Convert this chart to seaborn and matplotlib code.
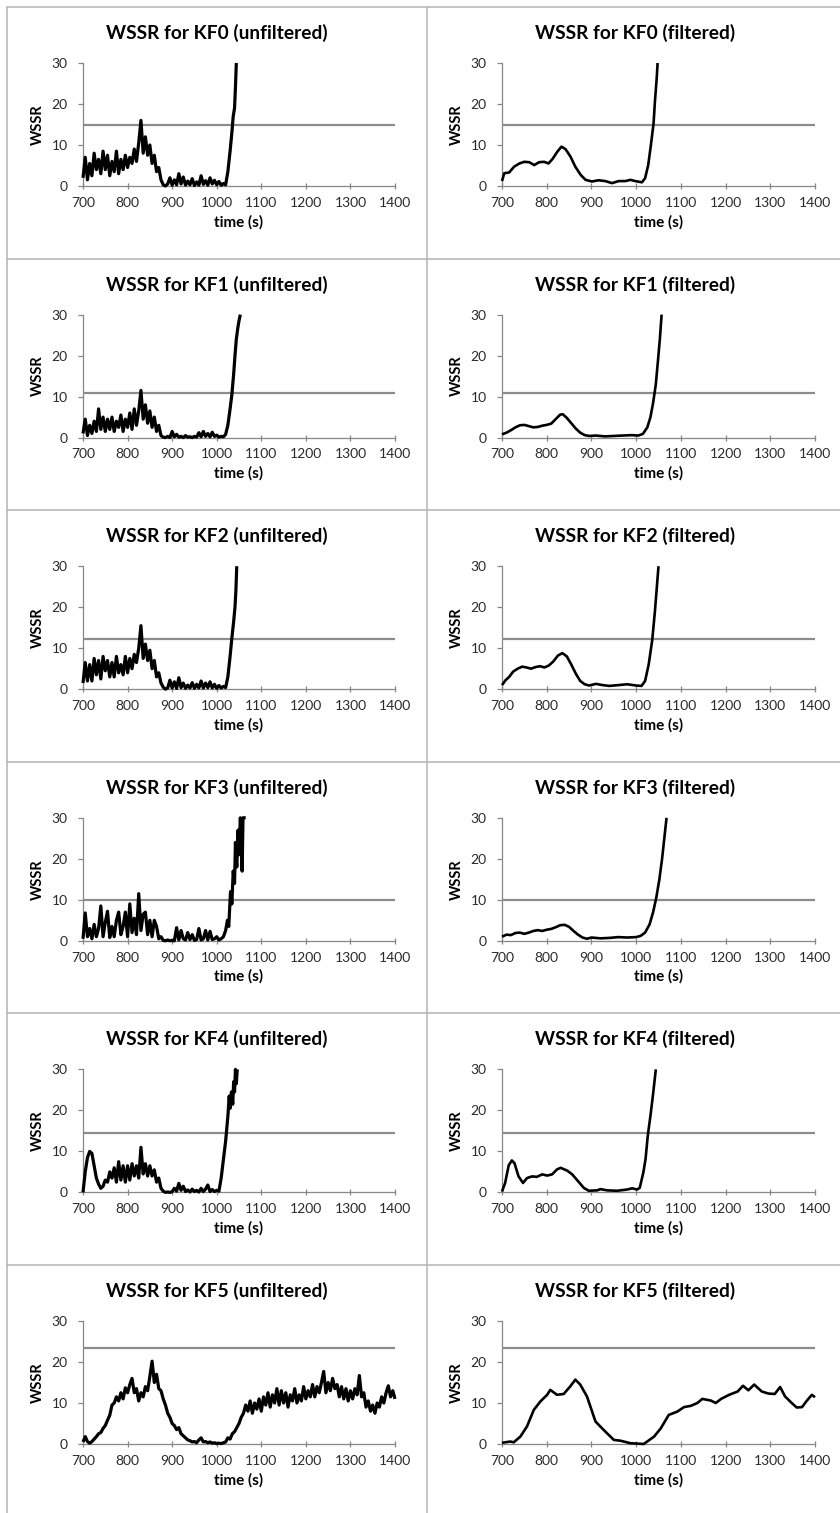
import numpy as np
import pandas as pd
import matplotlib
matplotlib.use("Agg")
import matplotlib.pyplot as plt
from matplotlib.lines import Line2D
import seaborn as sns

# ---------------------------------------------------------------------------
# Data: WSSR traces per Kalman filter (KF0..KF5), raw and smoothed
# Raw traces: regular 5 s samples from 700 s, followed by an irregular tail
# ---------------------------------------------------------------------------
kf0_raw = [
    2.0, 7.0, 1.5, 5.5, 2.5, 8.0, 4.0, 6.5, 3.0, 8.5,
    4.0, 7.5, 2.5, 6.0, 3.5, 8.5, 3.0, 6.5, 4.0, 7.5,
    4.5, 7.0, 5.5, 9.0, 6.0, 10.5, 16.0, 8.0, 12.0, 7.5,
    10.0, 5.5, 7.5, 3.5, 4.5, 1.5, 0.3, 0.0, 0.5, 2.0,
    0.2, 1.5, 0.3, 3.0, 0.5, 2.2, 0.2, 1.2, 0.3, 1.8,
    0.1, 1.0, 0.2, 2.5, 0.4, 1.3, 0.2, 2.0, 0.5, 1.4,
    0.3, 1.1, 0.2, 0.6, 0.3,
]
kf0_raw_tail_t = [1025, 1030, 1034, 1037, 1040, 1042, 1044]
kf0_raw_tail_v = [3.5, 8.5, 13.0, 17.0, 19.0, 24.0, 30.0]

kf1_raw = [
    1.0, 4.5, 0.5, 3.0, 1.0, 4.0, 1.5, 7.0, 2.0, 5.0,
    1.5, 4.5, 2.0, 5.0, 1.5, 4.0, 2.5, 5.5, 1.5, 4.5,
    2.5, 6.0, 2.0, 7.0, 3.0, 6.5, 11.5, 4.5, 8.0, 3.5,
    6.5, 2.5, 5.0, 1.5, 3.0, 0.5, 0.1, 0.0, 0.3, 0.0,
    1.5, 0.2, 0.8, 0.1, 0.3, 0.0, 0.5, 0.1, 0.2, 0.0,
    0.3, 0.1, 1.2, 0.2, 1.5, 0.3, 1.0, 0.2, 1.3, 0.3,
    0.6, 0.1, 0.3, 0.2,
]
kf1_raw_tail_t = [1020, 1025, 1030, 1034, 1038, 1041, 1044, 1047, 1050, 1053]
kf1_raw_tail_v = [0.8, 3.0, 7.0, 10.5, 15.5, 20.0, 24.0, 26.5, 28.5, 30.0]

kf2_raw = [
    1.5, 6.5, 2.0, 6.0, 2.0, 7.5, 3.5, 7.0, 2.5, 8.0,
    4.5, 7.0, 3.0, 6.5, 3.0, 8.0, 4.0, 6.0, 3.5, 8.0,
    4.0, 7.5, 5.0, 8.5, 6.5, 10.0, 15.5, 7.5, 11.0, 7.0,
    9.5, 5.0, 7.0, 3.0, 4.0, 1.5, 0.5, 0.0, 0.3, 2.2,
    0.3, 1.8, 0.2, 2.8, 0.4, 1.5, 0.2, 1.0, 0.3, 1.6,
    0.2, 1.2, 0.3, 2.0, 0.3, 1.5, 0.4, 1.8, 0.3, 1.2,
    0.2, 0.9, 0.3, 0.7, 0.4,
]
kf2_raw_tail_t = [1025, 1030, 1034, 1038, 1041, 1043, 1045]
kf2_raw_tail_v = [3.0, 8.0, 12.5, 16.5, 20.0, 24.0, 30.0]

kf3_raw = [
    0.5, 6.8, 1.0, 3.0, 0.5, 4.0, 1.0, 3.0, 8.5, 1.0,
    4.5, 7.2, 0.8, 3.5, 1.0, 5.0, 7.0, 1.5, 3.5, 7.0,
    1.0, 9.0, 2.0, 5.5, 1.5, 11.5, 2.5, 6.5, 7.0, 1.5,
    5.0, 1.0, 5.0, 3.5, 0.5, 1.0, 0.1, 0.0, 0.2, 0.0,
    0.1, 0.0, 3.2, 0.2, 2.5, 0.5, 0.2, 2.0, 0.3, 1.5,
    0.1, 0.3, 3.0, 0.2, 0.5, 2.5, 0.2, 2.3, 0.3, 0.5,
    1.0, 0.2, 0.5,
]
kf3_raw_tail_t = [1015, 1020, 1024, 1027, 1031, 1034, 1037, 1040, 1042,
                  1045, 1048, 1050, 1053, 1055, 1057, 1059, 1065]
kf3_raw_tail_v = [1.0, 2.5, 5.0, 3.5, 12.0, 9.0, 17.0, 14.0, 24.0,
                  18.0, 27.0, 21.0, 30.0, 25.0, 17.0, 30.0, 30.0]

kf4_raw = [
    0.0, 5.0, 8.5, 10.0, 9.5, 6.5, 3.5, 2.0, 1.0, 1.5,
    3.0, 2.5, 5.0, 3.5, 6.0, 2.5, 7.5, 3.0, 6.5, 2.5,
    6.5, 3.0, 7.0, 4.0, 6.5, 3.5, 11.0, 4.5, 7.0, 4.0,
    6.5, 4.0, 5.5, 2.5, 3.5, 1.0, 0.3, 0.0, 0.1, 0.0,
    0.2, 1.0, 0.3, 2.2, 0.5, 1.5, 0.2, 0.6, 0.1, 0.8,
    0.2, 0.5, 0.1, 1.0, 0.2, 0.8, 1.8, 0.2, 0.7, 0.2,
    0.5,
]
kf4_raw_tail_t = [1005, 1010, 1015, 1020, 1025, 1028, 1030, 1033, 1036,
                  1038, 1040, 1042, 1044, 1046]
kf4_raw_tail_v = [0.3, 3.5, 8.0, 12.5, 18.5, 23.5, 20.5, 24.5, 21.5,
                  27.0, 24.5, 30.0, 26.5, 30.0]

kf5_raw = [
    0.5, 1.8, 0.6, 0.2, 0.6, 1.2, 1.8, 2.5, 2.8, 3.8,
    4.5, 5.8, 7.0, 9.5, 10.0, 11.5, 10.5, 12.5, 11.0, 13.7,
    12.5, 14.5, 16.0, 12.5, 13.5, 10.5, 12.5, 11.5, 14.0, 13.0,
    16.5, 20.2, 15.0, 17.0, 13.5, 13.0, 11.0, 9.5, 7.5, 6.5,
    5.0, 4.5, 3.5, 4.0, 2.5, 2.0, 1.5, 1.0, 0.8, 0.5,
    0.6, 0.3, 1.0, 1.5, 0.5, 0.6, 0.3, 0.5, 0.2, 0.3,
    0.1, 0.2, 0.1, 0.3, 0.5, 1.5, 1.2, 2.5, 3.0, 4.0,
    5.0, 6.5, 7.5, 9.5, 8.0, 10.5, 7.5, 10.0, 8.5, 11.0,
    8.0, 11.5, 9.5, 12.5, 9.0, 12.0, 10.0, 13.5, 9.5, 13.0,
    10.0, 12.5, 9.0, 12.0, 10.5, 13.5, 10.0, 12.0, 10.5, 14.0,
    11.0, 13.0, 11.5, 14.5, 11.5, 14.0, 12.5, 15.0, 17.7, 12.5,
    15.0, 13.0, 16.0, 13.5, 14.5, 11.5, 14.0, 11.0, 13.5, 10.5,
    13.0, 11.0, 13.5, 12.0, 16.7, 11.5, 12.5, 9.0, 10.5, 8.0,
    9.5, 7.5, 10.0, 9.0, 11.5, 10.0, 12.5, 14.2, 11.5, 13.0,
    11.0,
]
kf5_raw_tail_t = []
kf5_raw_tail_v = []

# Smoothed traces (time, value)
kf0_filt_t = [700, 705, 716, 727, 739, 750, 761, 772, 783, 794, 804, 813, 824,
              833, 842, 853, 864, 876, 887, 901, 916, 931, 946, 961, 976, 987,
              998, 1013, 1020, 1027, 1033, 1039, 1042, 1046, 1048]
kf0_filt_v = [1.2, 3.1, 3.3, 4.7, 5.5, 5.9, 5.8, 5.1, 5.8, 5.9, 5.5, 6.6, 8.4,
              9.6, 9.0, 7.2, 4.7, 2.7, 1.5, 1.1, 1.4, 1.2, 0.7, 1.2, 1.2, 1.5,
              1.2, 0.9, 1.9, 5.1, 10.0, 15.3, 20.6, 26.3, 30.0]

kf1_filt_t = [700, 710, 720, 730, 740, 750, 760, 770, 780, 790, 800, 810, 820,
              830, 836, 845, 855, 865, 875, 885, 895, 910, 930, 950, 970, 990,
              1005, 1015, 1025, 1032, 1038, 1044, 1049, 1053, 1057]
kf1_filt_v = [0.8, 1.2, 1.8, 2.5, 3.0, 3.1, 2.8, 2.5, 2.6, 2.9, 3.1, 3.4, 4.5,
              5.6, 5.7, 4.8, 3.5, 2.2, 1.2, 0.6, 0.4, 0.5, 0.3, 0.4, 0.5, 0.6,
              0.5, 0.9, 2.5, 5.0, 8.5, 13.0, 19.0, 24.0, 30.0]

kf2_filt_t = [700, 708, 716, 725, 735, 745, 755, 765, 775, 785, 795, 805, 815,
              825, 835, 845, 855, 865, 875, 885, 895, 910, 925, 940, 960, 980,
              1000, 1012, 1020, 1028, 1036, 1042, 1046, 1050]
kf2_filt_v = [1.0, 2.2, 3.0, 4.3, 5.0, 5.5, 5.3, 5.0, 5.4, 5.6, 5.3, 5.8, 6.8,
              8.2, 8.8, 8.0, 6.0, 3.8, 2.0, 1.2, 0.9, 1.3, 1.0, 0.8, 1.0, 1.2,
              0.9, 0.8, 2.0, 6.0, 12.0, 19.0, 24.5, 30.0]

kf3_filt_t = [700, 710, 720, 730, 740, 750, 760, 770, 780, 790, 800, 810, 820,
              830, 840, 850, 860, 870, 880, 890, 900, 920, 940, 960, 980, 1000,
              1010, 1020, 1030, 1038, 1045, 1052, 1058, 1063, 1068]
kf3_filt_v = [1.0, 1.5, 1.4, 1.9, 2.0, 1.7, 2.0, 2.4, 2.6, 2.4, 2.7, 2.9, 3.3,
              3.8, 3.9, 3.4, 2.4, 1.5, 0.8, 0.5, 0.8, 0.6, 0.7, 0.9, 0.8, 0.9,
              1.2, 2.0, 4.0, 7.0, 10.5, 15.0, 20.0, 25.0, 30.0]

kf4_filt_t = [700, 707, 715, 722, 728, 737, 747, 756, 767, 778, 790, 801, 812,
              823, 831, 846, 857, 868, 883, 894, 913, 920, 935, 957, 980, 991,
              1002, 1008, 1016, 1021, 1026, 1032, 1038, 1044]
kf4_filt_v = [0.2, 2.3, 6.6, 7.8, 7.1, 3.9, 2.3, 3.5, 3.9, 3.8, 4.4, 4.1, 4.4,
              5.6, 6.0, 5.3, 4.4, 3.0, 1.1, 0.4, 0.5, 0.8, 0.5, 0.4, 0.7, 1.0,
              0.7, 1.1, 4.8, 8.1, 13.8, 18.7, 24.1, 30.0]

kf5_filt_t = [700, 719, 726, 741, 756, 771, 786, 801, 808, 823, 838, 853, 864,
              875, 890, 909, 924, 950, 965, 987, 1017, 1040, 1055, 1073, 1092,
              1107, 1122, 1137, 1148, 1167, 1178, 1190, 1208, 1227, 1239, 1251,
              1264, 1281, 1296, 1310, 1322, 1333, 1348, 1359, 1371, 1382, 1393,
              1400]
kf5_filt_v = [0.3, 0.6, 0.4, 1.8, 4.3, 8.3, 10.4, 12.0, 13.2, 12.0, 12.2, 14.1,
              15.7, 14.5, 11.6, 5.5, 3.8, 1.0, 0.8, 0.2, 0.0, 1.8, 3.8, 7.1,
              7.9, 9.0, 9.3, 10.0, 11.0, 10.6, 10.0, 11.0, 12.0, 12.8, 14.2,
              13.1, 14.5, 12.8, 12.3, 12.2, 13.9, 11.6, 10.0, 8.9, 9.0, 10.6,
              12.0, 11.4]

# Detection thresholds per filter
thresholds = [15.0, 11.0, 12.3, 10.0, 14.6, 23.5]

filter_names = ["KF0", "KF1", "KF2", "KF3", "KF4", "KF5"]
x_ticks = [700, 800, 900, 1000, 1100, 1200, 1300, 1400]
y_ticks = [0, 10, 20, 30]

raw_series = [
    (kf0_raw, kf0_raw_tail_t, kf0_raw_tail_v),
    (kf1_raw, kf1_raw_tail_t, kf1_raw_tail_v),
    (kf2_raw, kf2_raw_tail_t, kf2_raw_tail_v),
    (kf3_raw, kf3_raw_tail_t, kf3_raw_tail_v),
    (kf4_raw, kf4_raw_tail_t, kf4_raw_tail_v),
    (kf5_raw, kf5_raw_tail_t, kf5_raw_tail_v),
]
filt_series = [
    (kf0_filt_t, kf0_filt_v), (kf1_filt_t, kf1_filt_v),
    (kf2_filt_t, kf2_filt_v), (kf3_filt_t, kf3_filt_v),
    (kf4_filt_t, kf4_filt_v), (kf5_filt_t, kf5_filt_v),
]


def raw_frame(vals, tail_t, tail_v):
    t = 700 + 5 * np.arange(len(vals))
    return pd.DataFrame({
        "time": np.concatenate([t, np.asarray(tail_t, dtype=float)]),
        "wssr": np.concatenate([np.asarray(vals, dtype=float),
                                np.asarray(tail_v, dtype=float)]),
    })


# ---------------------------------------------------------------------------
# Styling
# ---------------------------------------------------------------------------
sns.set_theme(style="white")
plt.rcParams["font.family"] = ["Lato", "DejaVu Sans"]

AXIS_GREY = "#878787"
BORDER_GREY = "#b4b4b4"
THRESH_GREY = "#8c8c8c"
TEXT_DARK = "#2a2a2a"

W, H = 840, 1513
fig = plt.figure(figsize=(W / 100, H / 100), dpi=100)
fig.patch.set_facecolor("white")

ROW_TOP0 = 7.0
ROW_H = 251.6
cols = [
    {"x0": 83, "x1": 395, "cx": 217},
    {"x0": 502, "x1": 815, "cx": 635},
]


def rect_px(x0, x1, ytop, ybot):
    return [x0 / W, 1 - ybot / H, (x1 - x0) / W, (ybot - ytop) / H]


for r in range(6):
    top = ROW_TOP0 + r * ROW_H
    for c in range(2):
        geo = cols[c]
        ax = fig.add_axes(rect_px(geo["x0"], geo["x1"], top + 56, top + 179))
        ax.set_facecolor("white")

        if c == 0:
            df = raw_frame(*raw_series[r])
            kind = "unfiltered"
            data_lw = 2.3
        else:
            ft, fv = filt_series[r]
            df = pd.DataFrame({"time": ft, "wssr": fv})
            kind = "filtered"
            data_lw = 1.9

        thr = pd.DataFrame({"time": [700, 1400],
                            "wssr": [thresholds[r], thresholds[r]]})
        sns.lineplot(data=thr, x="time", y="wssr", ax=ax, color=THRESH_GREY,
                     linewidth=1.6, estimator=None, sort=False, zorder=2)
        sns.lineplot(data=df, x="time", y="wssr", ax=ax, color="black",
                     linewidth=data_lw, estimator=None, sort=False, zorder=3)
        for ln in ax.lines:
            ln.set_clip_on(False)
            ln.set_solid_joinstyle("round")
            ln.set_solid_capstyle("butt")

        ax.set_xlim(700, 1400)
        ax.set_ylim(0, 30)
        ax.set_xticks(x_ticks)
        ax.set_yticks(y_ticks)

        for side in ("top", "right"):
            ax.spines[side].set_visible(False)
        for side in ("left", "bottom"):
            ax.spines[side].set_color(AXIS_GREY)
            ax.spines[side].set_linewidth(0.9)
            ax.spines[side].set_zorder(1)

        ax.tick_params(axis="x", direction="inout", length=4.5, width=0.9,
                       color=AXIS_GREY, pad=5.5, labelsize=10,
                       labelcolor=TEXT_DARK, bottom=True)
        ax.tick_params(axis="y", direction="out", length=3.5, width=0.9,
                       color=AXIS_GREY, pad=7.5, labelsize=10,
                       labelcolor=TEXT_DARK, left=True)

        ax.set_xlabel("time (s)", fontsize=11, fontweight="bold",
                      color="black")
        ax.set_ylabel("WSSR", fontsize=10.5, fontweight="bold", color="black")
        ax.xaxis.set_label_coords(0.5, -36 / 123)
        ax.xaxis.label.set_va("center")
        ax.yaxis.set_label_coords(-45 / 312, 0.5)
        ax.yaxis.label.set_va("center")

        fig.text(geo["cx"] / W, 1 - (top + 26) / H,
                 f"WSSR for {filter_names[r]} ({kind})",
                 ha="center", va="center", fontsize=13.8, fontweight="bold",
                 color="black")

# Panel borders
def hline(y, x0=7, x1=W):
    fig.add_artist(Line2D([x0 / W, x1 / W], [1 - y / H, 1 - y / H],
                          color=BORDER_GREY, linewidth=1.1))


def vline(x, y0=7, y1=H):
    fig.add_artist(Line2D([x / W, x / W], [1 - y0 / H, 1 - y1 / H],
                          color=BORDER_GREY, linewidth=1.1))


for k in range(6):
    hline(ROW_TOP0 + k * ROW_H)
vline(7)
vline(427)

fig.savefig("out.png", dpi=100, facecolor="white")
